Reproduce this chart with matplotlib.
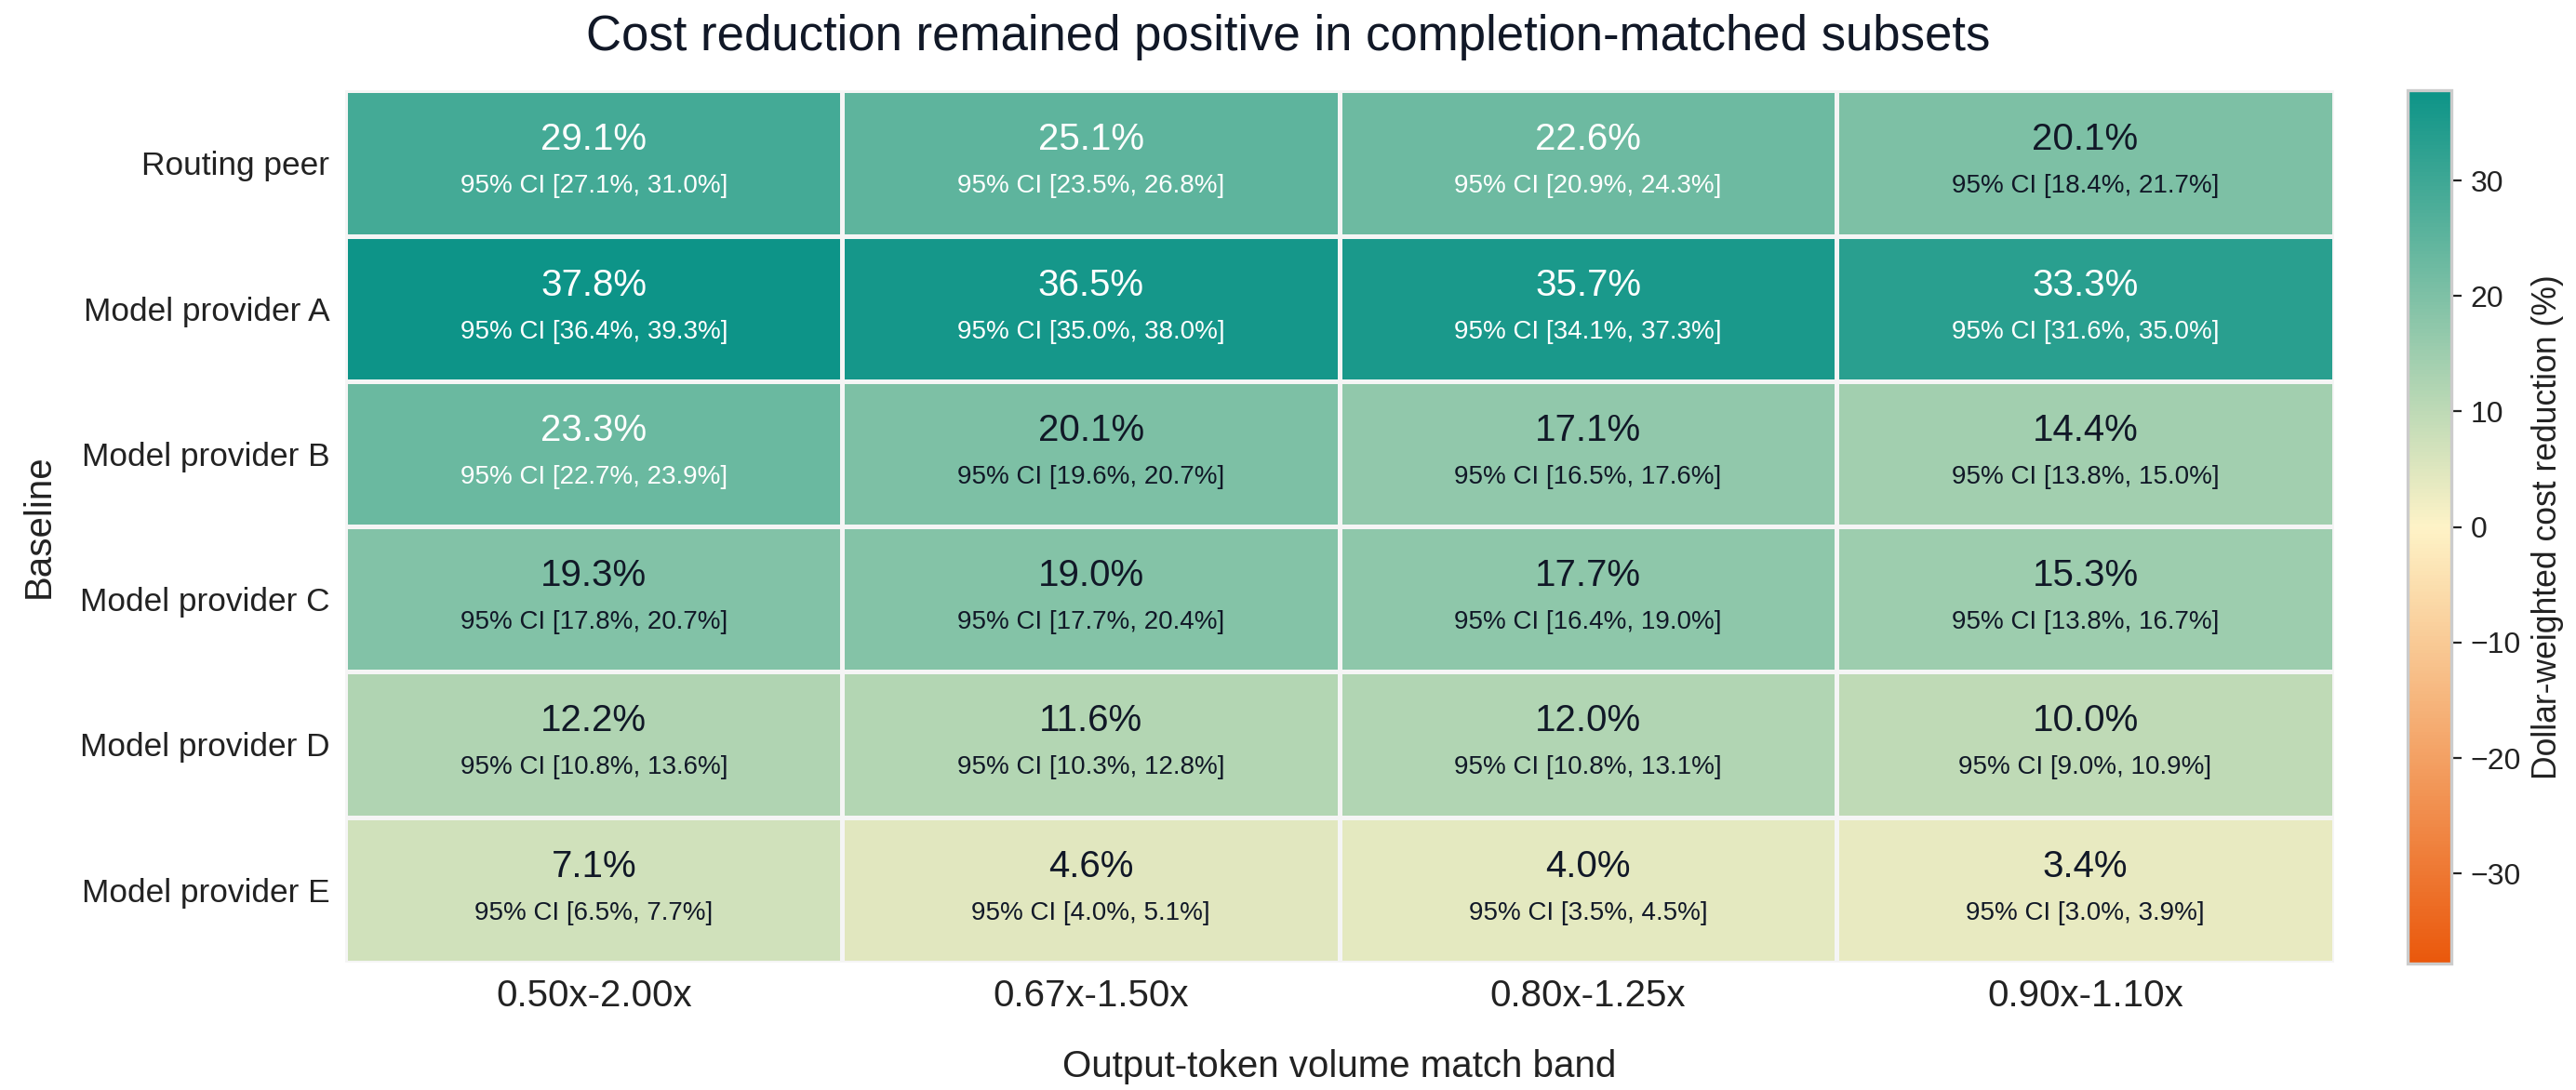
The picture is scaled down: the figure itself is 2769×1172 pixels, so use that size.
import numpy as np
import matplotlib
matplotlib.use("Agg")
from matplotlib import pyplot as plt
from matplotlib.colors import LinearSegmentedColormap

plt.rcParams['font.family'] = ['Liberation Sans', 'DejaVu Sans']

baselines = ["Routing peer", "Model provider A", "Model provider B",
             "Model provider C", "Model provider D", "Model provider E"]
bands = ["0.50x-2.00x", "0.67x-1.50x", "0.80x-1.25x", "0.90x-1.10x"]

reduction = np.array([
    [29.1, 25.1, 22.6, 20.1],
    [37.8, 36.5, 35.7, 33.3],
    [23.3, 20.1, 17.1, 14.4],
    [19.3, 19.0, 17.7, 15.3],
    [12.2, 11.6, 12.0, 10.0],
    [7.1, 4.6, 4.0, 3.4],
])
ci_low = np.array([
    [27.1, 23.5, 20.9, 18.4],
    [36.4, 35.0, 34.1, 31.6],
    [22.7, 19.6, 16.5, 13.8],
    [17.8, 17.7, 16.4, 13.8],
    [10.8, 10.3, 10.8, 9.0],
    [6.5, 4.0, 3.5, 3.0],
])
ci_high = np.array([
    [31.0, 26.8, 24.3, 21.7],
    [39.3, 38.0, 37.3, 35.0],
    [23.9, 20.7, 17.6, 15.0],
    [20.7, 20.4, 19.0, 16.7],
    [13.6, 12.8, 13.1, 10.9],
    [7.7, 5.1, 4.5, 3.9],
])

cmap = LinearSegmentedColormap.from_list("cost", ["#EA580C", "#FEF3C7", "#0D9488"])
vlim = np.abs(reduction).max()

fig = plt.figure(figsize=(13.845, 5.86), dpi=200)
ax = fig.add_axes([0.134, 0.117, 0.772, 0.800])
cax = fig.add_axes([0.9346, 0.116, 0.017, 0.801])

mesh = ax.pcolormesh(reduction, cmap=cmap, vmin=-vlim, vmax=vlim,
                     edgecolor="#F5F5F5", linewidth=1.8)
ax.set_xlim(0, len(bands))
ax.set_ylim(len(baselines), 0)

for i in range(len(baselines)):
    for j in range(len(bands)):
        v = reduction[i, j]
        col = "white" if abs(v) / vlim > 0.56 else "#111827"
        ax.text(j + 0.5, i + 0.34, f"{v:.1f}%", ha="center", va="center",
                fontsize=14.5, color=col)
        ax.text(j + 0.5, i + 0.66, f"95% CI [{ci_low[i, j]:.1f}%, {ci_high[i, j]:.1f}%]",
                ha="center", va="center", fontsize=10, color=col)

ax.set_xticks(np.arange(len(bands)) + 0.5)
ax.set_xticklabels(bands, fontsize=14.5, color="#222222")
ax.set_yticks(np.arange(len(baselines)) + 0.5)
ax.set_yticklabels(baselines, fontsize=12.7, color="#222222")
ax.tick_params(length=0, pad=6)
for s in ax.spines.values():
    s.set_visible(False)

ax.set_xlabel("Output-token volume match band", fontsize=14.5, color="#222222", labelpad=14)
ax.set_ylabel("Baseline", fontsize=14.5, color="#222222", labelpad=9)
fig.text(0.5, 0.966, "Cost reduction remained positive in completion-matched subsets",
         ha="center", va="center", fontsize=19, color="#111827")

cb = fig.colorbar(mesh, cax=cax)
cb.outline.set_edgecolor("#CCCCCC")
cb.outline.set_linewidth(1.2)
cb.set_ticks([-30, -20, -10, 0, 10, 20, 30])
cb.ax.tick_params(labelsize=11.5, colors="#222222", length=4, width=0.8)
cb.set_label("Dollar-weighted cost reduction (%)", fontsize=12.8, color="#222222")

fig.savefig("out.png", dpi=200)
